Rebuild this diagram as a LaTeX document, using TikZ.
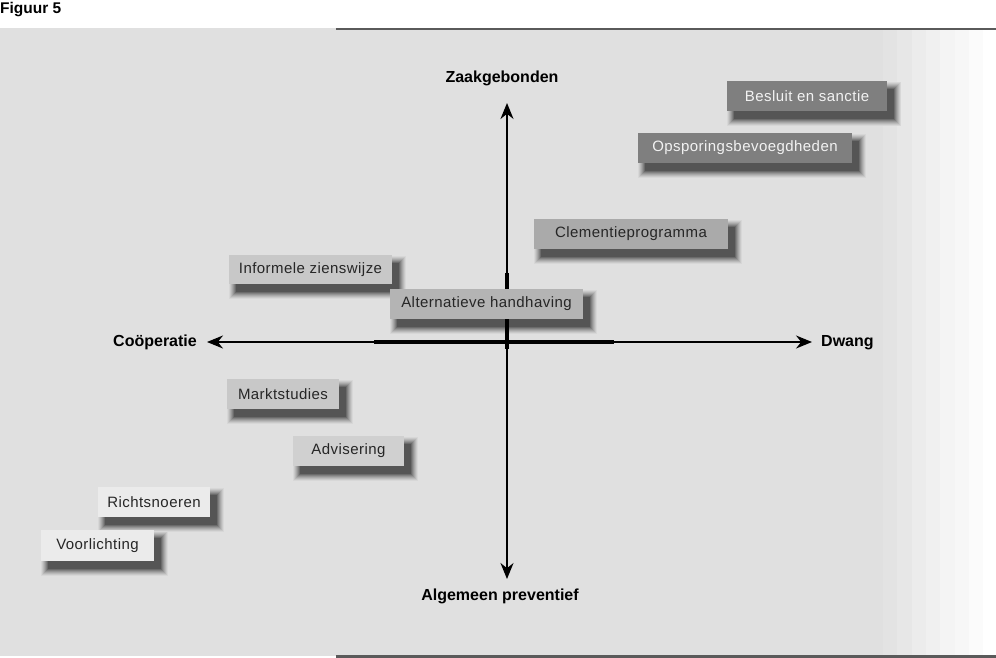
\documentclass[tikz,border=0pt]{standalone}
\usepackage{fontspec}
\setmainfont{Liberation Sans}
\newfontfamily\boxfont{Liberation Sans}[LetterSpace=3]
\usetikzlibrary{arrows.meta}
\pgfdeclarelayer{shadow}
\pgfsetlayers{shadow,main}
\definecolor{bggray}{HTML}{E0E0E0}
\definecolor{rulegray}{HTML}{5A5A5A}
\definecolor{darkbox}{HTML}{7F7F7F}
\definecolor{midbox}{HTML}{AAAAAA}
\definecolor{altbox}{HTML}{B4B4B4}
\definecolor{lightbox}{HTML}{C8C8C8}
\definecolor{advbox}{HTML}{D0D0D0}
\definecolor{palebox}{HTML}{EBEBEB}
\definecolor{darktext}{HTML}{F2F2F2}
\tikzset{
  itembox/.style={draw=none, inner sep=0pt, minimum height=30pt,
    font=\boxfont\fontsize{15}{17}\selectfont, text=black!85},
  axislabel/.style={font=\bfseries\fontsize{16}{19}\selectfont, inner sep=0pt},
  axisarrow/.style={line width=1.8pt, -{Stealth[length=16pt,width=13pt]}},
  thickseg/.style={line width=3.6pt}
}
\newcommand\softshadow[1]{%
  \begin{pgfonlayer}{shadow}
  \foreach \e in {7,6,...,0}{%
    \pgfmathsetmacro\pct{100-62*((8-\e)/8)^1.3}
    \fill[bggray!\pct!black] ([xshift=7pt-\e pt, yshift=-8pt-\e pt]#1.south west)
      rectangle ([xshift=7pt+\e pt, yshift=-8pt+\e pt]#1.north east);
  }
  \end{pgfonlayer}}
\begin{document}
\begin{tikzpicture}[x=1pt,y=-1pt]
\useasboundingbox (0,0) rectangle (996,658);
\begin{pgfonlayer}{shadow}
\fill[white] (0,0) rectangle (996,658);
% background with fading right edge
\fill[bggray] (0,28) rectangle (884,656);
\fill[black!11] (883,28) rectangle (898,656);
\fill[black!9.5] (897,28) rectangle (913,656);
\fill[black!7.5] (912,28) rectangle (927,656);
\fill[black!6] (926,28) rectangle (941,656);
\fill[black!4.5] (940,28) rectangle (956,656);
\fill[black!3] (955,28) rectangle (970,656);
\fill[black!1.5] (969,28) rectangle (983,656);
\end{pgfonlayer}
% rules
\coordinate (tl) at (336,29); \coordinate (tr) at (996,29);
\coordinate (bl) at (336,656.5); \coordinate (br) at (996,656.5);
\draw[rulegray, line width=1.4pt] (tl) -- (tr);
\draw[rulegray, line width=2.6pt] (bl) -- (br);
% title
\node[anchor=north west, inner sep=0pt, font=\bfseries\fontsize{15.5}{18}\selectfont] (title) at (0,2) {Figuur 5};
% axis labels
\node[axislabel] (top) at (502,78) {Zaakgebonden};
\node[axislabel] (bottom) at (500,596) {Algemeen preventief};
\node[axislabel, anchor=east] (left) at (197,342) {Coöperatie};
\node[axislabel, anchor=west] (right) at (821,343) {Dwang};
% axes
\coordinate (o) at (507,342);
\coordinate (up) at (507,103);
\coordinate (dn) at (507,579);
\coordinate (lf) at (207,342);
\coordinate (rt) at (812,342);
\draw[axisarrow] (o) -- (up);
\draw[axisarrow] (o) -- (dn);
\draw[axisarrow] (o) -- (lf);
\draw[axisarrow] (o) -- (rt);
\coordinate (h1) at (374,342); \coordinate (h2) at (614,342);
\coordinate (v1) at (507,273); \coordinate (v2) at (507,349);
\draw[thickseg] (h1) -- (h2);
\draw[thickseg] (v1) -- (v2);
% boxes
\node[itembox, fill=darkbox, text=darktext, minimum width=160pt] (besluit) at (807,96) {Besluit en sanctie};
\softshadow{besluit}
\node[itembox, fill=darkbox, text=darktext, minimum width=214pt] (opsp) at (745,148) {Opsporingsbevoegdheden};
\softshadow{opsp}
\node[itembox, fill=midbox, minimum width=194pt] (clem) at (631,234) {Clementieprogramma};
\softshadow{clem}
\node[itembox, fill=lightbox, minimum width=163pt, minimum height=29pt] (info) at (310.5,269.5) {Informele zienswijze};
\softshadow{info}
\node[itembox, fill=altbox, minimum width=193pt] (alt) at (486.5,304) {Alternatieve handhaving};
\softshadow{alt}
\node[itembox, fill=lightbox, minimum width=112pt] (markt) at (283,394) {Marktstudies};
\softshadow{markt}
\node[itembox, fill=advbox, minimum width=111pt] (advi) at (348.5,451) {Advisering};
\softshadow{advi}
\node[itembox, fill=palebox, minimum width=112pt] (richt) at (154,502) {Richtsnoeren};
\softshadow{richt}
\node[itembox, fill=palebox, minimum width=113pt, minimum height=31pt] (voor) at (97.5,545.5) {Voorlichting};
\softshadow{voor}
\end{tikzpicture}
\end{document}
